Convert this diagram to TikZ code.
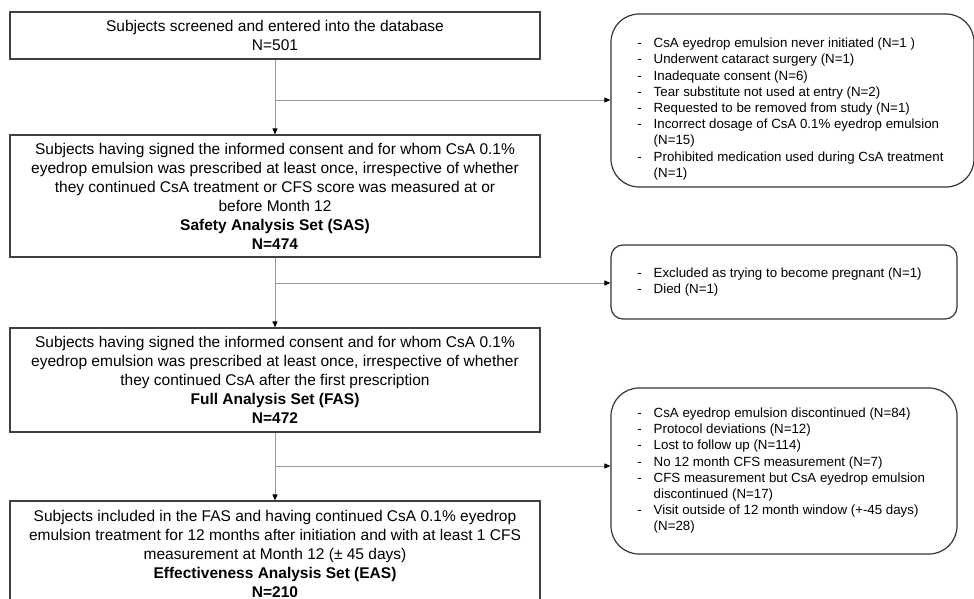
\documentclass[tikz,border=0pt]{standalone}
\usepackage{fontspec}
\setmainfont{Liberation Sans}
\usepackage{tikz}
\usetikzlibrary{arrows.meta,positioning}

\begin{document}
\begin{tikzpicture}[
    x=1pt, y=-1pt,
    box/.style={rectangle, draw=black!75, line width=1.2pt, align=center, font=\fontsize{15.5}{19}\selectfont, minimum width=530pt, inner sep=0pt},
    exbox/.style={rectangle, draw=black!80, line width=1.2pt, rounded corners=28pt, align=left, font=\fontsize{13.3}{16.2}\selectfont, inner sep=0pt},
    arrow/.style={-{Triangle[length=6pt, width=5pt, color=black]}, draw=black!40, line width=0.9pt}
  ]
    \useasboundingbox (0,0) rectangle (974,599);
    % main flow
    \node[box, minimum height=47pt] (scr) at (275,35.5) {Subjects screened and entered into the database\\N=501};
    \node[box, minimum height=122pt] (sas) at (275,196) {Subjects having signed the informed consent and for whom CsA 0.1\%\\
      eyedrop emulsion was prescribed at least once, irrespective of whether\\
      they continued CsA treatment or CFS score was measured at or\\
      before Month 12\\
      \textbf{Safety Analysis Set (SAS)}\\
      \textbf{N=474}};
    \node[box, minimum height=104pt] (fas) at (275,380) {Subjects having signed the informed consent and for whom CsA 0.1\%\\
      eyedrop emulsion was prescribed at least once, irrespective of whether\\
      they continued CsA after the first prescription\\
      \textbf{Full Analysis Set (FAS)}\\
      \textbf{N=472}};
    \node[box, minimum height=106pt] (eas) at (275,554) {Subjects included in the FAS and having continued CsA 0.1\% eyedrop\\
      emulsion treatment for 12 months after initiation and with at least 1 CFS\\
      measurement at Month 12 (\textpm\ 45 days)\\
      \textbf{Effectiveness Analysis Set (EAS)}\\
      \textbf{N=210}};
    % exclusions
    \node[exbox, minimum width=363pt, minimum height=173pt] (exa) at (792.5,100.5) {\begin{tabular}{@{}l@{\hspace{12pt}}l@{}}
      \rule{0pt}{29pt}- & \makebox[294pt][l]{CsA eyedrop emulsion never initiated (N=1 )}\\
      - & Underwent cataract surgery (N=1)\\
      - & Inadequate consent (N=6)\\
      - & Tear substitute not used at entry (N=2)\\
      - & Requested to be removed from study (N=1)\\
      - & Incorrect dosage of CsA 0.1\% eyedrop emulsion\\
        & (N=15)\\
      - & Prohibited medication used during CsA treatment\\
        & (N=1)
      \end{tabular}};
    \node[exbox, rounded corners=12pt, minimum width=346pt, minimum height=74pt] (exb) at (784,282) {\begin{tabular}{@{}l@{\hspace{12pt}}l@{}}
      - & \makebox[277pt][l]{Excluded as trying to become pregnant (N=1)}\\
      - & Died (N=1)
      \end{tabular}};
    \node[exbox, minimum width=346pt, minimum height=166pt] (exc) at (784,471) {\begin{tabular}{@{}l@{\hspace{12pt}}l@{}}
      - & \makebox[277pt][l]{CsA eyedrop emulsion discontinued (N=84)}\\
      - & Protocol deviations (N=12)\\
      - & Lost to follow up (N=114)\\
      - & No 12 month CFS measurement (N=7)\\
      - & CFS measurement but CsA eyedrop emulsion\\
        & discontinued (N=17)\\
      - & Visit outside of 12 month window (+-45 days)\\
        & (N=28)
      \end{tabular}};
    % branch points
    \coordinate (b1) at (275,100);
    \coordinate (b2) at (275,283);
    \coordinate (b3) at (275,466);
    \draw[arrow] (scr) -- (sas);
    \draw[arrow] (sas) -- (fas);
    \draw[arrow] (fas) -- (eas);
    \draw[arrow] (b1) -- (b1 -| exa.west);
    \draw[arrow] (b2) -- (b2 -| exb.west);
    \draw[arrow] (b3) -- (b3 -| exc.west);
  \end{tikzpicture}
\end{document}
